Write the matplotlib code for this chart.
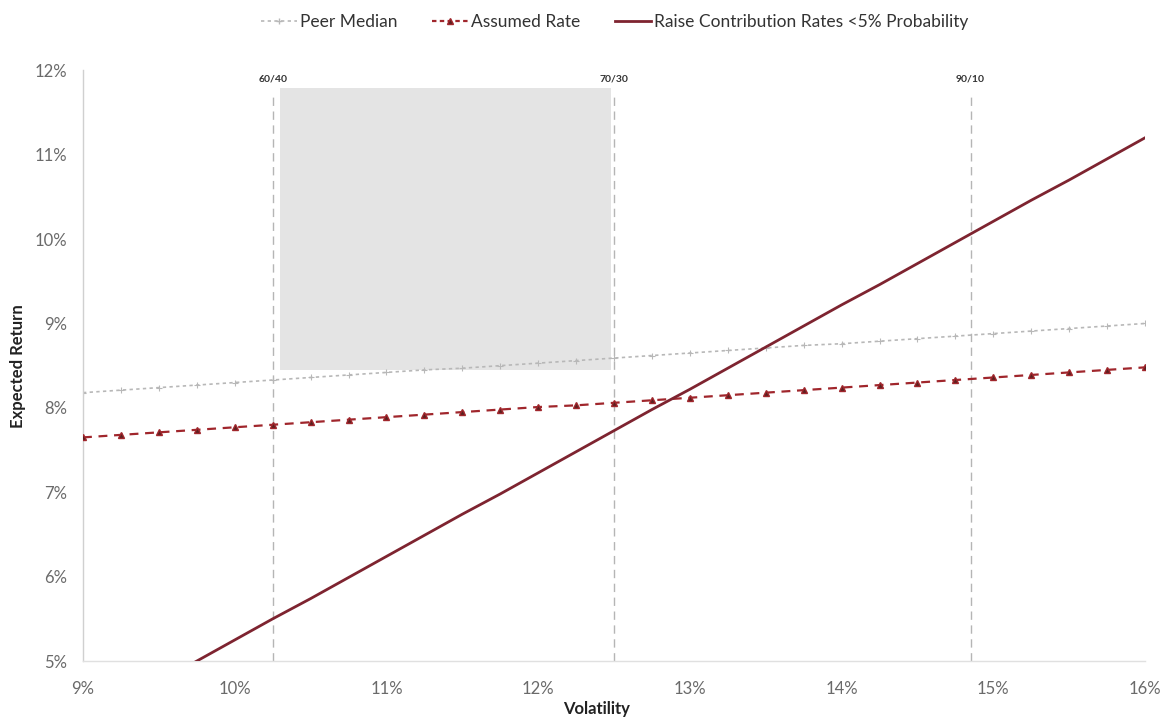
"""Expected return vs volatility with allocation markers."""

import matplotlib.pyplot as plt
from matplotlib.patches import Rectangle
from matplotlib.lines import Line2D
from matplotlib.ticker import FuncFormatter

plt.rcParams['font.family'] = ['Lato', 'DejaVu Sans']

volatility = [9.00, 9.25, 9.50, 9.75, 10.00, 10.25, 10.50, 10.75, 11.00, 11.25,
              11.50, 11.75, 12.00, 12.25, 12.50, 12.75, 13.00, 13.25, 13.50, 13.75,
              14.00, 14.25, 14.50, 14.75, 15.00, 15.25, 15.50, 15.75, 16.00]
peer_median = [8.18, 8.21, 8.24, 8.27, 8.30, 8.33, 8.36, 8.39, 8.42, 8.45,
               8.47, 8.50, 8.53, 8.56, 8.59, 8.62, 8.65, 8.68, 8.71, 8.74,
               8.76, 8.79, 8.82, 8.85, 8.88, 8.91, 8.94, 8.97, 9.00]
assumed_rate = [7.65, 7.68, 7.71, 7.74, 7.77, 7.80, 7.83, 7.86, 7.89, 7.92,
                7.95, 7.98, 8.01, 8.03, 8.06, 8.09, 8.12, 8.15, 8.18, 8.21,
                8.24, 8.27, 8.30, 8.33, 8.36, 8.39, 8.42, 8.45, 8.48]
raise_contrib = [4.26, 4.50, 4.75, 5.00, 5.25, 5.50, 5.74, 5.99, 6.24, 6.49,
                 6.74, 6.98, 7.23, 7.48, 7.73, 7.98, 8.22, 8.47, 8.72, 8.97,
                 9.22, 9.46, 9.71, 9.96, 10.21, 10.46, 10.70, 10.95, 11.20]

mix_labels = ['60/40', '70/30', '90/10']
mix_vol = [10.25, 12.50, 14.85]

# shaded box (from a scanned page)
box_x = (10.30, 12.48)
box_y = (8.45, 11.79)

fig = plt.figure(figsize=(11.64, 7.17), dpi=100)
ax = fig.add_axes([0.0713, 0.078, 0.9124, 0.824])
ax.set_xlim(9, 16)
ax.set_ylim(5, 12)

ax.add_patch(Rectangle((box_x[0], box_y[0]), box_x[1] - box_x[0], box_y[1] - box_y[0],
                       facecolor='#e4e4e4', edgecolor='none', zorder=0))

for lab, v in zip(mix_labels, mix_vol):
    ax.plot([v, v], [5, 11.72], color='#b5b5b5', lw=1.0, ls=(0, (6, 4)), zorder=1)
    ax.text(v, 11.9, lab, ha='center', va='center', fontsize=7.5,
            fontweight='bold', color='#333333')

ax.plot(volatility, peer_median, color='#b8b8b8', lw=1.2, ls=(0, (2, 2)),
        marker='+', ms=4, mew=0.8, zorder=2)
ax.plot(volatility, assumed_rate, color='#a0262c', lw=1.6, ls=(0, (4, 3)),
        marker='^', ms=5, mfc='#5a2020', mec='#a0262c', zorder=3)
ax.plot(volatility, raise_contrib, color='#7e2430', lw=2.0, zorder=4)

for s in ['top', 'right']:
    ax.spines[s].set_visible(False)
ax.spines['left'].set_color('#d0d0d0')
ax.spines['bottom'].set_color('#e0e0e0')
ax.spines['left'].set_linewidth(1.0)
ax.spines['bottom'].set_linewidth(1.0)

ax.set_xticks(range(9, 17))
ax.set_yticks(range(5, 13))
pct = FuncFormatter(lambda v, p: f'{v:.0f}%')
ax.xaxis.set_major_formatter(pct)
ax.yaxis.set_major_formatter(pct)
ax.tick_params(length=0, labelsize=12, labelcolor='#6a6a6a')
ax.tick_params(axis='x', pad=14)
ax.tick_params(axis='y', pad=11.5)

ax.set_xlabel('Volatility', fontsize=12, fontweight='bold', color='#222222')
ax.xaxis.set_label_coords(0.484, -0.068)
ax.set_ylabel('Expected Return', fontsize=12, fontweight='bold', color='#222222')
ax.yaxis.set_label_coords(-0.054, 0.5)

handles = [
    Line2D([], [], color='#b8b8b8', lw=1.2, ls=(0, (2, 2)), marker='+', ms=4),
    Line2D([], [], color='#a0262c', lw=1.6, ls=(0, (2, 1.5)), marker='^', ms=5,
           mfc='#5a2020', mec='#a0262c'),
    Line2D([], [], color='#7e2430', lw=2.0),
]
fig.legend(handles, ['Peer Median', 'Assumed Rate',
                     'Raise Contribution Rates <5% Probability'],
           loc='center', bbox_to_anchor=(0.528, 0.969), ncol=3, frameon=False,
           fontsize=12.5, handlelength=2.1, handletextpad=0.15, columnspacing=2.0,
           labelcolor='#333333')

fig.savefig('out.png', dpi=100)
